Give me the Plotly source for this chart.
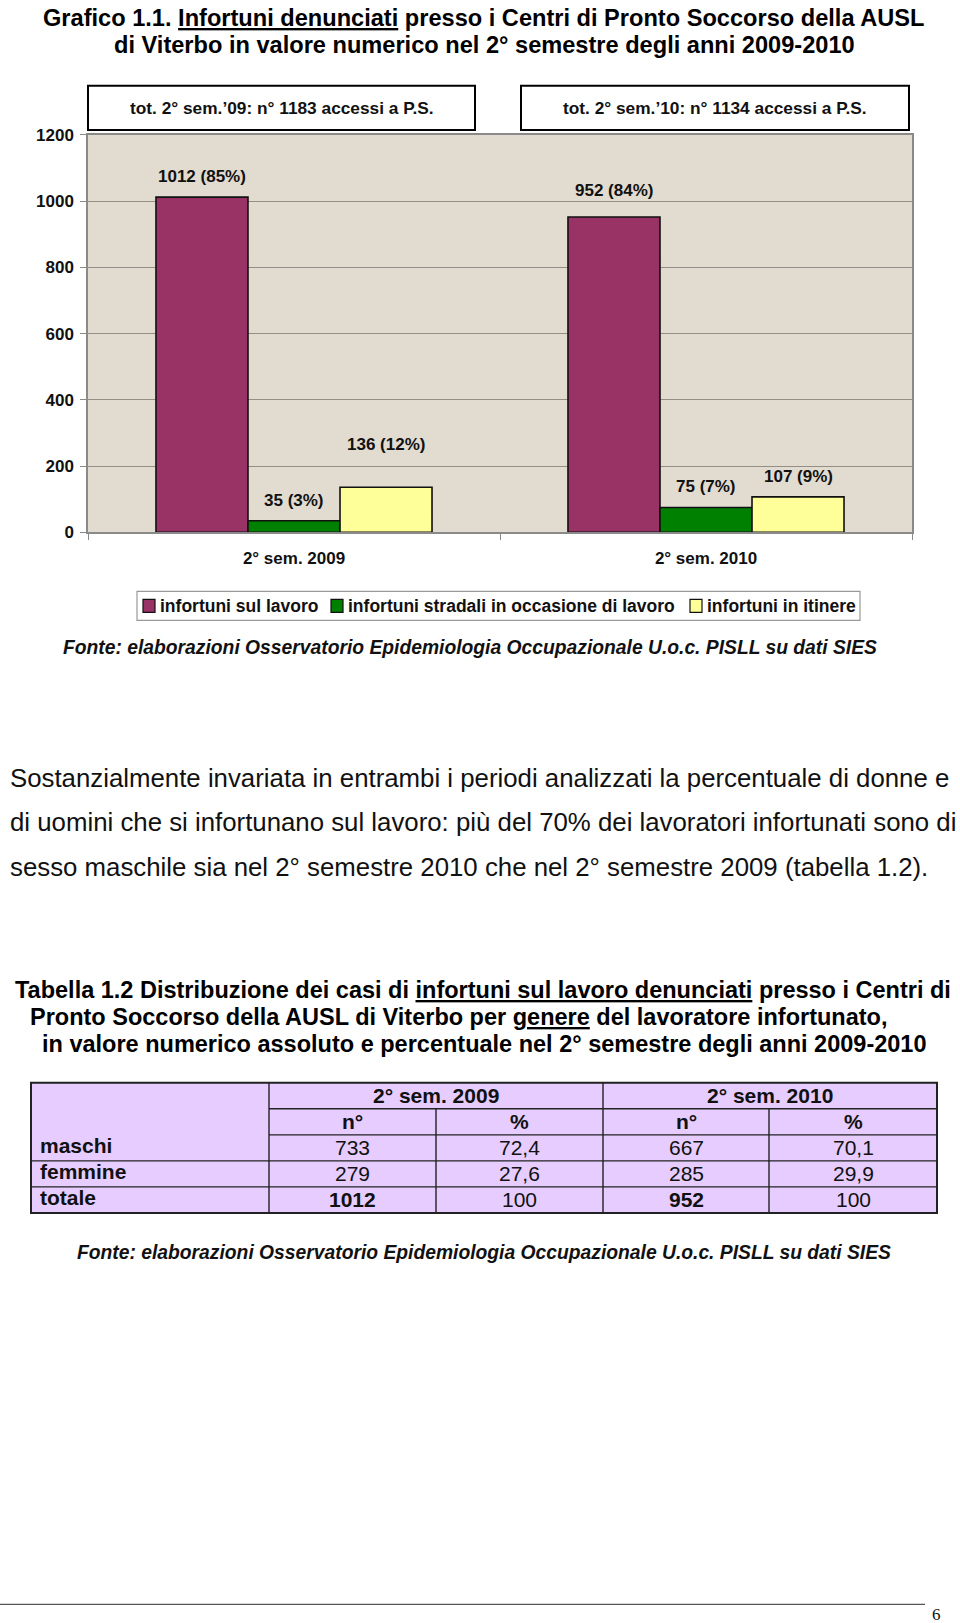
import plotly.graph_objects as go

# ---------------- data ----------------
periods = ["2° sem. 2009", "2° sem. 2010"]
period_short = ["09", "10"]
series_names = ["infortuni sul lavoro",
                "infortuni stradali in occasione di lavoro",
                "infortuni in itinere"]
lavoro = [1012, 952]
stradali = [35, 75]
itinere = [136, 107]
pct_lavoro = [85, 84]
pct_stradali = [3, 7]
pct_itinere = [12, 9]
tot_accessi = [1183, 1134]

genders = ["maschi", "femmine", "totale"]
n_2009 = [733, 279, 1012]
pct_2009 = ["72,4", "27,6", "100"]
n_2010 = [667, 285, 952]
pct_2010 = ["70,1", "29,9", "100"]
y_ticks = [0, 200, 400, 600, 800, 1000, 1200]

# ---------------- style ----------------
W = 960
HFIG = 1640
OFF = 9.2          # observed page offset
SC = 0.9875        # observed vertical page scale
SANS = "Liberation Sans, Arial, sans-serif"
SERIF = "Liberation Serif, Times New Roman, serif"
colors = ["#993366", "#008000", "#FFFF99"]
label_dy = [[21, 20, 43], [27, 21, 20]]   # label offset above bar top (px)
BARGAP = 0.33


def X(px):
    return px / W


def Y(py):
    return 1 - ((py - OFF) / SC) / HFIG


values = [lavoro, stradali, itinere]
pcts = [pct_lavoro, pct_stradali, pct_itinere]

fig = go.Figure()
for k, name in enumerate(series_names):
    fig.add_trace(go.Bar(
        x=periods, y=values[k], name=name,
        marker=dict(color=colors[k], line=dict(color="#111111", width=1.6)),
        showlegend=False,
    ))

annotations = []
shapes = []
bw = (1 - BARGAP) / len(series_names)
for k in range(len(series_names)):
    for i in range(len(periods)):
        annotations.append(dict(
            x=i + (k - 1) * bw, y=values[k][i], xref="x", yref="y",
            text=f"{values[k][i]} ({pcts[k][i]}%)", showarrow=False,
            yanchor="middle", yshift=label_dy[i][k],
            font=dict(family=SANS, size=17, color="#111111", weight="bold")))

# title
annotations.append(dict(
    x=X(483), y=Y(18.5), xref="paper", yref="paper", showarrow=False,
    xanchor="center", yanchor="middle",
    text="Grafico 1.1. <u>Infortuni denunciati</u> presso i Centri di Pronto Soccorso della AUSL",
    font=dict(family=SANS, size=23.6, color="#000000", weight="bold")))
annotations.append(dict(
    x=X(484), y=Y(45.5), xref="paper", yref="paper", showarrow=False,
    xanchor="center", yanchor="middle",
    text="di Viterbo in valore numerico nel 2° semestre degli anni 2009-2010",
    font=dict(family=SANS, size=23.6, color="#000000", weight="bold")))

# total boxes
boxes = [(88, 475), (521, 909)]
for i, (x0, x1) in enumerate(boxes):
    shapes.append(dict(type="rect", xref="paper", yref="paper",
                       x0=X(x0), x1=X(x1), y0=Y(130), y1=Y(86),
                       fillcolor="white", line=dict(color="#000000", width=2)))
    annotations.append(dict(
        x=X((x0 + x1) / 2), y=Y(108), xref="paper", yref="paper",
        showarrow=False, xanchor="center", yanchor="middle",
        text=f"tot. 2° sem.’{period_short[i]}: n° {tot_accessi[i]} accessi a P.S.",
        font=dict(family=SANS, size=17.3, color="#111111", weight="bold")))

# legend (manual)
shapes.append(dict(type="rect", xref="paper", yref="paper",
                   x0=X(137), x1=X(860), y0=Y(620), y1=Y(591),
                   fillcolor="white", line=dict(color="#999999", width=1.2)))
leg_x = [143, 331, 690]
for k, name in enumerate(series_names):
    shapes.append(dict(type="rect", xref="paper", yref="paper",
                       x0=X(leg_x[k]), x1=X(leg_x[k] + 12), y0=Y(612), y1=Y(599),
                       fillcolor=colors[k], line=dict(color="#111111", width=1.2)))
    annotations.append(dict(
        x=X(leg_x[k] + 15), y=Y(606), xref="paper", yref="paper",
        showarrow=False, xanchor="left", yanchor="middle", text=name,
        font=dict(family=SANS, size=17.5, color="#111111", weight="bold")))

fonte = "Fonte: elaborazioni Osservatorio Epidemiologia Occupazionale U.o.c. PISLL su dati SIES"
for cx, cy in [(470, 647), (484, 1252)]:
    annotations.append(dict(
        x=X(cx), y=Y(cy), xref="paper", yref="paper", showarrow=False,
        xanchor="center", yanchor="middle", text=fonte,
        font=dict(family=SANS, size=19.3, color="#111111", weight="bold", style="italic")))

# paragraph
para = ["Sostanzialmente invariata in entrambi i periodi analizzati la percentuale di donne e",
        "di uomini che si infortunano sul lavoro: più del 70% dei lavoratori infortunati sono di",
        "sesso maschile sia nel 2° semestre 2010 che nel 2° semestre 2009 (tabella 1.2)."]
for j, line in enumerate(para):
    annotations.append(dict(
        x=X(8), y=Y(777 + 44.5 * j), xref="paper", yref="paper", showarrow=False,
        xanchor="left", yanchor="middle", text=line,
        font=dict(family=SANS, size=25.8, color="#111111")))

# table title
ttl = [("Tabella 1.2 Distribuzione dei casi di <u>infortuni sul lavoro denunciati</u> presso i Centri di", 13),
       ("Pronto Soccorso della AUSL di Viterbo per <u>genere</u> del lavoratore infortunato,", 28),
       ("in valore numerico assoluto e percentuale nel 2° semestre degli anni 2009-2010", 40)]
for j, (line, lx) in enumerate(ttl):
    annotations.append(dict(
        x=X(lx), y=Y(989 + 27 * j), xref="paper", yref="paper", showarrow=False,
        xanchor="left", yanchor="middle", text=line,
        font=dict(family=SANS, size=23.5, color="#000000", weight="bold")))

# table (drawn with shapes)
cols = [31, 269, 436, 603, 769, 937]
rows = [1082, 1108, 1134, 1160, 1186, 1212]
TCOL = "#E6CCFF"
BCOL = "#222222"
shapes.append(dict(type="rect", xref="paper", yref="paper",
                   x0=X(cols[0]), x1=X(cols[-1]), y0=Y(rows[-1]), y1=Y(rows[0]),
                   fillcolor=TCOL, line=dict(color=BCOL, width=2), layer="below"))


def hline(y, xa, xb):
    shapes.append(dict(type="line", xref="paper", yref="paper",
                       x0=X(xa), x1=X(xb), y0=Y(y), y1=Y(y),
                       line=dict(color=BCOL, width=1.4)))


def vline(x, ya, yb):
    shapes.append(dict(type="line", xref="paper", yref="paper",
                       x0=X(x), x1=X(x), y0=Y(ya), y1=Y(yb),
                       line=dict(color=BCOL, width=1.4)))


hline(rows[1], cols[1], cols[-1])
hline(rows[2], cols[1], cols[-1])
hline(rows[3], cols[0], cols[-1])
hline(rows[4], cols[0], cols[-1])
vline(cols[1], rows[0], rows[-1])
vline(cols[3], rows[0], rows[-1])
vline(cols[2], rows[1], rows[-1])
vline(cols[4], rows[1], rows[-1])


def cell_text(txt, cx, cy, bold, anchor="center"):
    annotations.append(dict(
        x=X(cx), y=Y(cy), xref="paper", yref="paper", showarrow=False,
        xanchor=anchor, yanchor="middle", text=txt,
        font=dict(family=SANS, size=21, color="#111111",
                  weight="bold" if bold else "normal")))


rc = [(rows[r] + rows[r + 1]) / 2 for r in range(len(rows) - 1)]
cc = [(cols[c] + cols[c + 1]) / 2 for c in range(len(cols) - 1)]
cell_text(periods[0], (cols[1] + cols[3]) / 2, rc[0], True)
cell_text(periods[1], (cols[3] + cols[5]) / 2, rc[0], True)
for c, h in enumerate(["n°", "%", "n°", "%"]):
    cell_text(h, cc[c + 1], rc[1], True)
for r, g in enumerate(genders):
    last = (r == len(genders) - 1)
    cell_text(g, cols[0] + 7, rc[r + 2] - 2, True, anchor="left")
    cell_text(str(n_2009[r]), cc[1], rc[r + 2], last)
    cell_text(pct_2009[r], cc[2], rc[r + 2], False)
    cell_text(str(n_2010[r]), cc[3], rc[r + 2], last)
    cell_text(pct_2010[r], cc[4], rc[r + 2], False)

# footer
shapes.append(dict(type="line", xref="paper", yref="paper",
                   x0=0, x1=X(925), y0=Y(1603), y1=Y(1603),
                   line=dict(color="#555555", width=1.2)))
annotations.append(dict(
    x=X(936), y=Y(1613), xref="paper", yref="paper", showarrow=False,
    xanchor="center", yanchor="middle", text="6",
    font=dict(family=SERIF, size=17, color="#111111")))

fig.update_layout(
    width=W, height=HFIG, margin=dict(l=0, r=0, t=0, b=0),
    paper_bgcolor="white", plot_bgcolor="#E2DBCF",
    barmode="group", bargap=BARGAP, bargroupgap=0,
    annotations=annotations, shapes=shapes, showlegend=False,
    xaxis=dict(domain=[X(88), X(912)], type="category",
               showline=True, linecolor="#8a8a8a", linewidth=1.5, mirror=True,
               ticks="outside", tickson="boundaries", ticklen=6, tickcolor="#8a8a8a",
               showgrid=False, ticklabelstandoff=10,
               tickfont=dict(family=SANS, size=17, color="#111111", weight="bold")),
    yaxis=dict(domain=[Y(532), Y(135)], range=[0, 1200], tickvals=y_ticks,
               showline=True, linecolor="#8a8a8a", linewidth=1.5, mirror=True,
               ticks="outside", ticklen=6, tickcolor="#8a8a8a",
               showgrid=True, gridcolor="#948e86", gridwidth=1, zeroline=False,
               ticklabelstandoff=3,
               tickfont=dict(family=SANS, size=17, color="#111111", weight="bold")),
)

fig.write_html("out.html")
